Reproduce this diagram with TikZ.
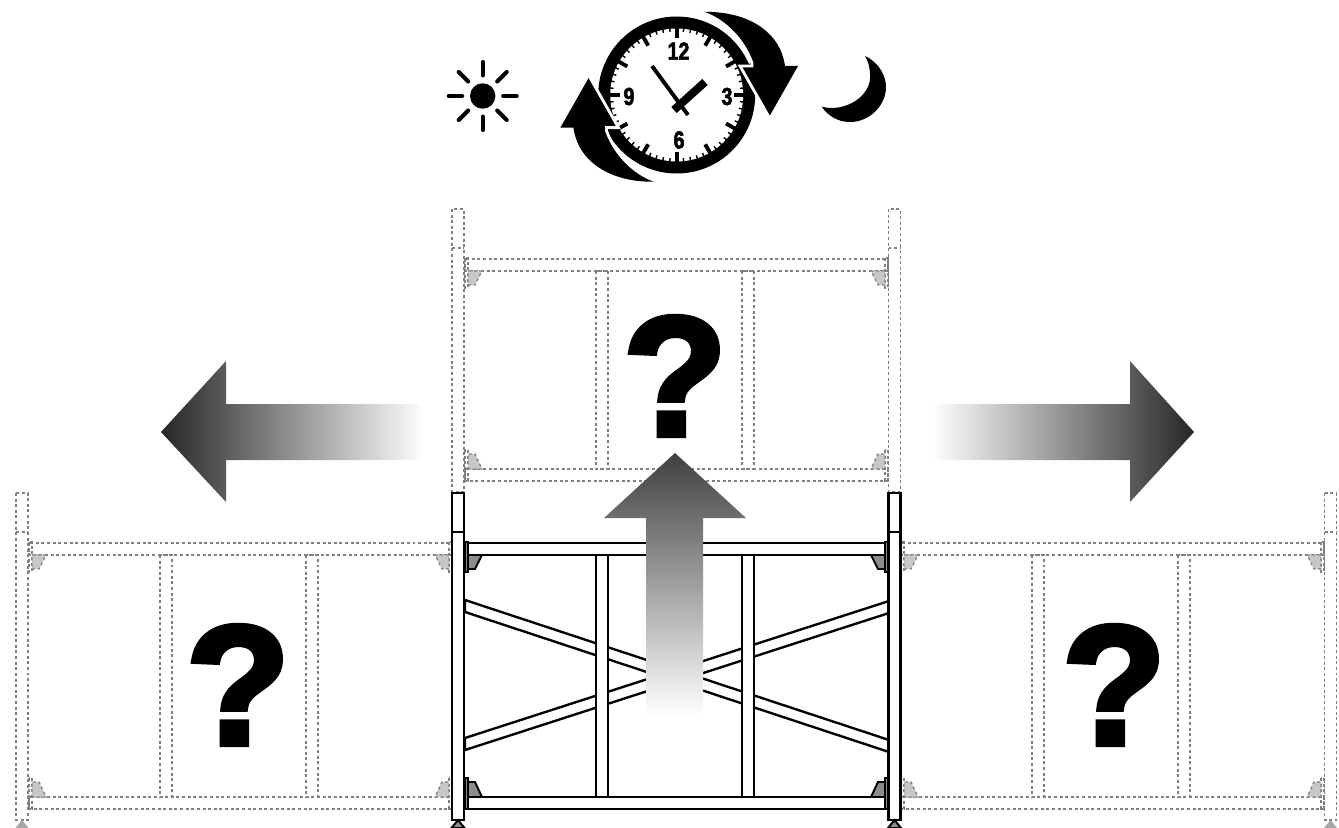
\documentclass[tikz,border=0pt]{standalone}
\usepackage{fontspec}
\usepackage{tikz}
\usetikzlibrary{calc}
\newfontfamily\quizfont{Liberation Sans}[BoldFeatures={FakeBold=3.2}]
\newfontfamily\dialfont{Liberation Sans}[BoldFeatures={FakeBold=2.5}]

% one scaffold bay, #1 = top edge of lower beam
\newcommand{\framebay}[1]{
  % posts
  \foreach \px in {452,888.5}{
    \draw[member] (\px,493) rectangle (\px+12,#1+23);
    \draw[member] (\px,532) -- (\px+12,532);
    \draw[foot] (\px+6,#1+23) -- (\px+12.5,#1+31) -- (\px-.5,#1+31) -- cycle;
  }
  % beams
  \draw[member] (465,543) rectangle (888,555);
  \draw[member] (465,#1) rectangle (888,#1+12);
  % uprights
  \draw[member] (596,555) rectangle (608,#1);
  \draw[member] (742,555) rectangle (754,#1);
  % gussets
  \draw[plate] (465,542) rectangle (468,572);
  \draw[plate] (885,542) rectangle (888,572);
  \draw[plate] (465,#1-19) rectangle (468,#1+12);
  \draw[plate] (885,#1-19) rectangle (888,#1+12);
  \draw[gusset] (468,555) -- (482,555) -- (475,569) -- (468,569) -- cycle;
  \draw[gusset] (885,555) -- (871,555) -- (878,569) -- (885,569) -- cycle;
  \draw[gusset] (468,#1) -- (482,#1) -- (475,#1-15) -- (468,#1-15) -- cycle;
  \draw[gusset] (885,#1) -- (871,#1) -- (878,#1-15) -- (885,#1-15) -- cycle;
}

\newcommand{\turnarrow}{
  \fill[clockink] (700,12) .. controls (745,10) and (780,30) .. (785,66) -- (798,66) -- (769,117)
    -- (740,66) -- (752,63) .. controls (743,38) and (722,18) .. cycle;
  \draw[draw=white, line width=1.6pt] (700,12) .. controls (722,18) and (743,38) .. (752,63)
    -- (752,66) -- (740,66) -- (769,117);
}

\begin{document}
\begin{tikzpicture}[x=0.02cm,y=-0.02cm,
  solidbar/.style={draw=black, line width=1.35pt, fill=white},
  ghostbar/.style={draw=black!50, line width=0.75pt, dash pattern=on 1.7pt off 1.5pt},
  member/.style={solidbar},
  plate/.style={draw=black, line width=1.1pt, fill=black!45},
  gusset/.style={draw=black, line width=1.1pt, fill=black!45},
  foot/.style={draw=black, line width=1.1pt, fill=black!45},
  ghosted/.style={
    member/.style={ghostbar},
    plate/.style={ghostbar},
    gusset/.style={ghostbar, fill=black!22},
    foot/.style={draw=none, fill=black!35}},
  clockink/.style={fill=black},
  ray/.style={draw=black, line width=2.3pt, line cap=round},
  quiz/.style={font=\quizfont\bfseries\fontsize{97}{97}\selectfont, inner sep=0pt},
  dial/.style={font=\dialfont\bfseries\fontsize{14}{14}\selectfont, inner sep=0pt, xscale=.8},
  hand/.style={draw=black}
]
\useasboundingbox (0,0) rectangle (1339,828);

% neighbouring bays
\begin{scope}[ghosted, shift={(-436,0)}]
  \framebay{797}
\end{scope}
\begin{scope}[ghosted, shift={(436,0)}]
  \framebay{797}
\end{scope}
\begin{scope}[ghosted, shift={(0,-284)}]
  \framebay{753}
\end{scope}

% main bay
\draw[member] (465,600) -- (889,740) -- (889,752) -- (465,612) -- cycle;
\draw[member] (465,738) -- (889,601) -- (889,613) -- (465,750) -- cycle;
\framebay{797}

% question marks
\node[quiz] (qtop) at (675,376) {?};
\node[quiz] (qleft) at (238,685) {?};
\node[quiz] (qright) at (1114,685) {?};

% big arrows
\shade[left color=black!85, right color=white]
  (161,432) -- (226,361) -- (226,404) -- (425,404) -- (425,460) -- (226,460) -- (226,502) -- cycle;
\shade[right color=black!85, left color=white]
  (1194,432) -- (1130,361) -- (1130,404) -- (932,404) -- (932,460) -- (1130,460) -- (1130,502) -- cycle;
\shade[top color=black!75, bottom color=white]
  (675,453) -- (746,518) -- (703,518) -- (703,716) -- (646,716) -- (646,518) -- (604,518) -- cycle;

% sun
\fill (482.7,96) circle (12.7);
\foreach \ang in {0,45,...,315}{
  \draw[ray] ($(482.7,96)+(\ang:20.5)$) -- ($(482.7,96)+(\ang:34)$);
}

% moon
\fill (865,56) .. controls (880,63) and (886,77) .. (886,87)
  .. controls (886,105) and (870,122) .. (850,122)
  .. controls (838,122) and (828,116) .. (821.7,106.7)
  .. controls (846,113) and (872,95) .. (870,75)
  .. controls (870,67) and (868,61) .. (865,56) -- cycle;

% clock
\fill (676.7,95) circle (78.5);
\fill[white] (676.7,95) circle (66.5);
\foreach \ang in {0,6,...,354}{
  \draw[black, line width=.8pt] ($(676.7,95)+(\ang:67)$) -- ($(676.7,95)+(\ang:63.5)$);
}
\foreach \ang in {0,30,...,330}{
  \draw[black, line width=2.2pt] ($(676.7,95)+(\ang:67)$) -- ($(676.7,95)+(\ang:57)$);
}
\node[dial] (h12) at (678.5,51) {12};
\node[dial] (h3) at (727,96.5) {3};
\node[dial] (h6) at (679,140) {6};
\node[dial] (h9) at (629,96.5) {9};
\draw[hand, line width=2.2pt] (652,66) -- (688,115);
\draw[hand, line width=4.6pt] (674,110) -- (705,82);

\turnarrow
\begin{scope}[rotate around={180:(679.2,96.8)}]
  \turnarrow
\end{scope}
\end{tikzpicture}
\end{document}
